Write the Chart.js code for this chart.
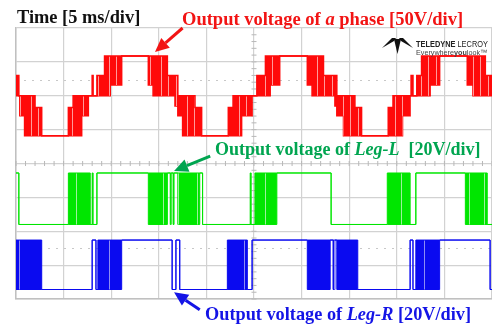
<!DOCTYPE html>
<html lang="en">
<head>
<meta charset="utf-8">
<title>Output voltages - scope capture</title>
<script src="https://cdn.jsdelivr.net/npm/chart.js@4.4.1/dist/chart.umd.min.js"></script>
<style>
  body { margin: 0; background: #fff; }
  #wrap { position: relative; width: 492px; height: 325px; overflow: hidden; }
  .lbl { position: absolute; white-space: nowrap; font-family: "Liberation Serif", "Times New Roman", serif;
         font-weight: bold; font-size: 18px; line-height: 1; }
  .lbl i { font-style: italic; }
  #logo { position: absolute; left: 380px; top: 36px; }
  .logo1 { position: absolute; left: 416px; top: 39px; font: bold 8.5px "Liberation Sans", Arial, sans-serif; color: #222;
           white-space: nowrap; transform: scaleX(0.87); transform-origin: left top; }
  .logo1 span { font-weight: normal; }
  .logo2 { position: absolute; left: 416px; top: 48px; font: 8px "Liberation Sans", Arial, sans-serif; color: #444;
           white-space: nowrap; transform: scaleX(0.9); transform-origin: left top; }
</style>
</head>
<body>
<div id="wrap">
  <canvas id="scope"></canvas>

  <div class="lbl" style="left:17px; top:8px; color:#111; font-size:18.4px;">Time [5 ms/div]</div>
  <div class="lbl" style="left:182px; top:10px; color:#f21414; font-size:18.5px;">Output voltage of <i>a</i> phase [50V/div]</div>
  <div class="lbl" style="left:215px; top:140px; color:#00a550;">Output voltage of <i>Leg-L</i>&nbsp; [20V/div]</div>
  <div class="lbl" style="left:205px; top:305px; color:#1414e6; font-size:18.3px;">Output voltage of <i>Leg-R</i> [20V/div]</div>

  <svg id="logo" width="36" height="20" viewBox="380 36 36 20">
    <polygon points="382,48 392,38 396,38 394,41" fill="#111"/>
    <polygon points="413,48 403,38 399,38 401,41" fill="#111"/>
    <polygon points="394,39 401,39 397.5,54" fill="#111"/>
  </svg>
  <div class="logo1">TELEDYNE <span>LECROY</span></div>
  <div class="logo2">Everywhere<b>you</b>look&trade;</div>
</div>

<script>
// time in ms (5 ms per division), value in screen divisions (0 = bottom of screen, 8 = top)
// each trace: segment start time, upper and lower edge of the trace (equal = plain line, different = PWM block)

var redStart = [0, 0.3, 0.4, 0.9, 2.0, 2.7, 5.5, 6.0, 6.9, 7.6, 8.0, 8.1, 8.5, 9.3, 9.9, 11.1, 13.9, 14.4,
  15.9, 16.7, 17.0, 17.5, 18.8, 19.5, 22.3, 22.8, 23.7, 24.8, 25.3, 26.2, 26.7, 27.7, 30.6, 31.1,
  32.3, 33.5, 33.7, 34.4, 35.6, 36.3, 39.1, 39.6, 40.6, 41.4, 41.5, 41.7, 42.1, 42.6, 43.5, 44.5, 47.4, 48.0, 49.3, 50];
var redHigh = [6.6, 6.0, 6.0, 6.0, 5.65, 4.82, 5.65, 6.0, 6.0, 6.0, 6.6, 6.0, 6.6, 7.17, 7.17, 7.17, 7.17, 7.17,
  6.6, 6.6, 6.0, 6.0, 5.65, 4.82, 5.65, 6.0, 6.0, 6.0, 6.6, 7.17, 7.17, 7.17, 7.17, 7.17,
  6.6, 6.6, 6.0, 6.0, 5.65, 4.82, 5.65, 6.0, 6.0, 6.0, 6.6, 6.0, 6.6, 7.17, 7.17, 7.17, 7.17, 7.17, 6.6, 6.6];
var redLow = [6.0, 6.0, 5.41, 4.82, 4.82, 4.82, 4.82, 4.82, 5.41, 6.0, 6.0, 6.0, 6.0, 6.0, 6.32, 7.17, 6.32, 6.0,
  6.0, 5.7, 5.41, 4.82, 4.82, 4.82, 4.82, 4.82, 5.41, 6.0, 6.0, 6.0, 6.32, 7.17, 6.32, 6.0,
  6.0, 5.7, 5.41, 4.82, 4.82, 4.82, 4.82, 4.82, 5.41, 6.0, 6.0, 6.0, 6.0, 6.0, 6.32, 7.17, 6.32, 6.0, 6.0, 6.0];

var greenStart = [0, 0.3, 5.5, 7.8, 8.0, 8.1, 8.5, 13.9, 15.9, 16.2, 16.3, 16.5, 16.6, 17.0, 19.3, 19.6,
  24.6, 24.7, 25.1, 27.4, 33.1, 39.0, 41.4, 42.0, 47.2, 49.5, 50];
var greenHigh = [3.72, 2.2, 3.72, 2.2, 3.72, 2.2, 3.72, 3.72, 3.72, 3.72, 3.72, 3.72, 3.72, 3.72, 3.72, 2.2,
  3.72, 2.2, 3.72, 3.72, 2.2, 3.72, 2.2, 3.72, 3.72, 2.2, 2.2];
var greenLow = [3.72, 2.2, 2.2, 2.2, 2.2, 2.2, 3.72, 2.2, 3.72, 2.2, 3.72, 2.2, 3.72, 2.2, 3.72, 2.2,
  2.2, 2.2, 2.2, 3.72, 2.2, 2.2, 2.2, 3.72, 2.2, 2.2, 2.2];

var blueStart = [0, 2.7, 8.0, 8.4, 8.6, 11.1, 16.4, 16.8, 17.2, 22.2, 24.3, 24.8, 30.6, 33.0, 33.3, 33.5, 33.7,
  35.9, 41.4, 41.7, 42.0, 44.5, 49.8, 50];
var blueHigh = [1.74, 0.28, 1.74, 0.28, 1.74, 1.74, 0.28, 1.74, 0.28, 1.74, 0.28, 1.74, 1.74, 1.74, 1.74, 1.74, 1.74,
  0.28, 1.74, 0.28, 1.74, 1.74, 0.28, 0.28];
var blueLow = [0.28, 0.28, 1.74, 0.28, 0.28, 1.74, 0.28, 1.74, 0.28, 0.28, 0.28, 1.74, 0.28, 1.74, 0.28, 1.74, 0.28,
  0.28, 1.74, 0.28, 0.28, 1.74, 0.28, 0.28];

// dotted channel reference lines and arrow annotations, in the same units
var refLines = [6.47, 1.51];
var arrows = [
  {from: [17.5, 8.0], to: [14.6, 7.29], color: '#f21414'},
  {from: [20.4, 4.22], to: [16.6, 3.78], color: '#00a550'},
  {from: [19.3, -0.32], to: [16.6, 0.2], color: '#1414e6'}
];

function pts(t, v) {
  return t.map(function (x, i) { return {x: x, y: v[i]}; });
}

// PWM blocks on the scope are dense switching edges with lighter gaps; a striped fill gives that look
function stripes(color, light, gaps, w) {
  var c = document.createElement('canvas');
  c.width = w; c.height = 4;
  var g = c.getContext('2d');
  g.fillStyle = color; g.fillRect(0, 0, w, 4);
  g.fillStyle = light;
  gaps.forEach(function (x) { g.fillRect(x, 0, 1, 4); });
  return g.createPattern(c, 'repeat');
}

function trace(t, hi, lo, color, fill, width) {
  return [
    {data: pts(t, hi), borderColor: color, backgroundColor: fill, borderWidth: width,
     fill: '+1', stepped: true, pointRadius: 0},
    {data: pts(t, lo), borderColor: color, backgroundColor: color, borderWidth: width,
     fill: false, stepped: true, pointRadius: 0}
  ];
}

var decor = {
  id: 'decor',
  beforeDatasetsDraw: function (chart) {
    var ctx = chart.ctx, xs = chart.scales.x, ys = chart.scales.y, a = chart.chartArea;
    ctx.save();
    // dotted reference lines
    ctx.strokeStyle = '#c8c8c8';
    ctx.lineWidth = 1;
    ctx.setLineDash([2, 6]);
    refLines.forEach(function (v) {
      var y = Math.round(ys.getPixelForValue(v)) + 0.5;
      ctx.beginPath(); ctx.moveTo(a.left, y); ctx.lineTo(a.right, y); ctx.stroke();
    });
    ctx.setLineDash([]);
    // small ticks on the centre cross
    ctx.strokeStyle = '#b8b8b8';
    var cy = ys.getPixelForValue(4), cx = xs.getPixelForValue(25);
    ctx.beginPath();
    for (var t = 0; t <= 50; t += 1) {
      var px = xs.getPixelForValue(t);
      ctx.moveTo(px, cy - 2.5); ctx.lineTo(px, cy + 2.5);
    }
    for (var d = 0; d <= 8; d += 0.2) {
      var py = ys.getPixelForValue(d);
      ctx.moveTo(cx - 2.5, py); ctx.lineTo(cx + 2.5, py);
    }
    ctx.stroke();
    ctx.restore();
  },
  afterDraw: function (chart) {
    var ctx = chart.ctx, xs = chart.scales.x, ys = chart.scales.y;
    ctx.save();
    arrows.forEach(function (ar) {
      var x0 = xs.getPixelForValue(ar.from[0]), y0 = ys.getPixelForValue(ar.from[1]);
      var x1 = xs.getPixelForValue(ar.to[0]), y1 = ys.getPixelForValue(ar.to[1]);
      var ang = Math.atan2(y1 - y0, x1 - x0), head = 14, half = 6.5;
      var bx = x1 - head * Math.cos(ang), by = y1 - head * Math.sin(ang);
      ctx.strokeStyle = ar.color; ctx.fillStyle = ar.color; ctx.lineWidth = 3;
      ctx.beginPath(); ctx.moveTo(x0, y0); ctx.lineTo(bx, by); ctx.stroke();
      ctx.beginPath();
      ctx.moveTo(x1, y1);
      ctx.lineTo(bx + half * Math.sin(ang), by - half * Math.cos(ang));
      ctx.lineTo(bx - half * Math.sin(ang), by + half * Math.cos(ang));
      ctx.closePath(); ctx.fill();
    });
    ctx.restore();
  }
};

var ds = [].concat(
  trace(redStart, redHigh, redLow, '#ff0a0a', stripes('#ff0a0a', '#ff9a9a', [5, 12, 20], 26), 1.5),
  trace(greenStart, greenHigh, greenLow, '#00e600', stripes('#00e600', '#9cf09c', [8, 27], 34), 1),
  trace(blueStart, blueHigh, blueLow, '#0a0af0', stripes('#0a0af0', '#8c8cf4', [19], 45), 1)
);

var chart = new Chart(document.getElementById('scope'), {
  type: 'line',
  data: {datasets: ds},
  options: {
    responsive: true,
    maintainAspectRatio: false,
    animation: false,
    layout: {padding: {left: 16, top: 28, right: 0, bottom: 26}},
    plugins: {legend: {display: false}, tooltip: {enabled: false}},
    scales: {
      x: {
        type: 'linear', min: 0, max: 50,
        ticks: {display: false, stepSize: 5, autoSkip: false},
        grid: {color: '#d2d2d2', lineWidth: 1.2, drawTicks: false},
        border: {color: '#c0c0c0', width: 1.5}
      },
      y: {
        min: 0, max: 8,
        ticks: {display: false, stepSize: 1, autoSkip: false},
        grid: {color: '#d2d2d2', lineWidth: 1.2, drawTicks: false},
        border: {color: '#c0c0c0', width: 1.5}
      }
    }
  },
  plugins: [decor]
});
</script>
</body>
</html>
